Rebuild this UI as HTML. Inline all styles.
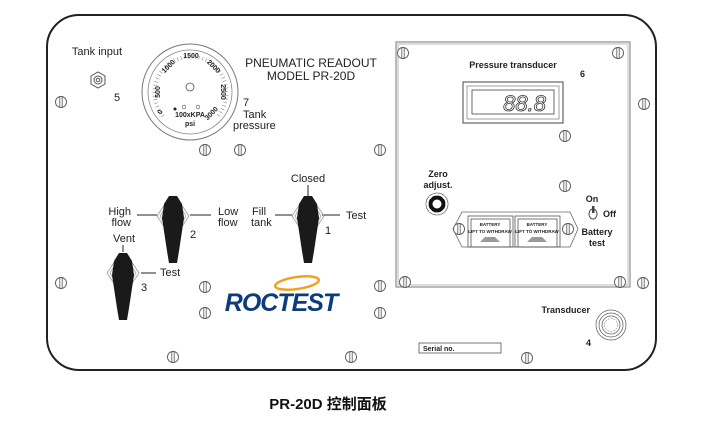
<!DOCTYPE html>
<html><head><meta charset="utf-8"><style>
html,body{margin:0;padding:0;background:#fff;}
svg{display:block;font-family:"Liberation Sans",Arial,sans-serif;}
</style></head><body>
<svg width="713" height="424" viewBox="0 0 713 424" xmlns="http://www.w3.org/2000/svg">
<defs>
<g id="s"><circle r="5.5" fill="#fff" stroke="#555" stroke-width="0.9"/><line x1="-1.2" y1="-5" x2="-1.2" y2="5" stroke="#555" stroke-width="0.8"/><line x1="1.2" y1="-5" x2="1.2" y2="5" stroke="#555" stroke-width="0.8"/></g>
<g id="lev">
<path d="M-16,0 L-8,-12 L8,-12 L16,0 L8,12 L-8,12 Z" fill="none" stroke="#999" stroke-width="0.8"/>
<path d="M-13,0 L-7,-10 L7,-10 L13,0 L7,10 L-7,10 Z" fill="none" stroke="#aaa" stroke-width="0.8"/>
<path d="M-4,-20 L4,-20 L9,-12 L11,2 L6,35 L4,47 L-4,47 L-6,35 L-11,2 L-9,-12 Z" fill="#1a1a1a"/>
</g>
</defs>
<rect x="47" y="15" width="609" height="355" rx="32" fill="#fff" stroke="#222" stroke-width="2"/>
<rect x="396" y="42" width="234" height="245" fill="none" stroke="#777" stroke-width="1"/>
<rect x="398" y="44" width="230" height="241" fill="none" stroke="#aaa" stroke-width="0.8"/>
<use href="#s" x="61" y="102"/><use href="#s" x="61" y="283"/>
<use href="#s" x="205" y="150"/><use href="#s" x="240" y="150"/><use href="#s" x="380" y="150"/>
<use href="#s" x="205" y="287"/><use href="#s" x="205" y="313"/>
<use href="#s" x="380" y="286"/><use href="#s" x="380" y="313"/>
<use href="#s" x="173" y="357"/><use href="#s" x="351" y="357"/><use href="#s" x="527" y="358"/>
<use href="#s" x="644" y="104"/><use href="#s" x="643" y="283"/>
<use href="#s" x="403" y="53"/><use href="#s" x="618" y="53"/><use href="#s" x="565" y="136"/><use href="#s" x="565" y="186"/><use href="#s" x="405" y="282"/><use href="#s" x="620" y="282"/>
<text x="97" y="55" font-size="11" text-anchor="middle" fill="#222">Tank input</text>
<polygon points="91,76 98,72 105,76 105,84 98,88 91,84" fill="#fff" stroke="#555"/>
<circle cx="98" cy="80" r="4" fill="none" stroke="#555"/><circle cx="98" cy="80" r="1.8" fill="none" stroke="#555"/>
<text x="114" y="101" font-size="11" fill="#222">5</text>
<circle cx="190" cy="92" r="48" fill="#fff" stroke="#777" stroke-width="1"/>
<circle cx="190" cy="92" r="42" fill="none" stroke="#888" stroke-width="0.8"/>
<circle cx="190" cy="87" r="4" fill="none" stroke="#555" stroke-width="0.8"/>
<path d="M163,116 A36,36 0 1 1 218,116" fill="none" stroke="#888" stroke-dasharray="0.6 3" stroke-width="4"/>
<g font-size="7" font-weight="bold" fill="#222" text-anchor="middle">
<text x="162" y="113" transform="rotate(-60 162 113)">0</text>
<text x="160" y="92" transform="rotate(-90 160 92)">500</text>
<text x="170" y="68" transform="rotate(-45 170 68)">1000</text>
<text x="191" y="58">1500</text>
<text x="212" y="68" transform="rotate(45 212 68)">2000</text>
<text x="221" y="92" transform="rotate(90 221 92)">2500</text>
<text x="213" y="115" transform="rotate(-45 213 115)">3000</text>
<text x="190" y="117">100xKPA</text>
<text x="190" y="126">psi</text>
</g>
<circle cx="175" cy="109" r="1.5" fill="#222"/><circle cx="184" cy="107" r="1.8" fill="none" stroke="#555" stroke-width="0.6"/><circle cx="198" cy="107" r="1.8" fill="none" stroke="#555" stroke-width="0.6"/>
<text x="243" y="106" font-size="11" fill="#222">7</text>
<text x="243" y="118" font-size="11" fill="#222">Tank</text>
<text x="233" y="129" font-size="11" fill="#222">pressure</text>
<text x="311" y="67" font-size="12" text-anchor="middle" fill="#222">PNEUMATIC READOUT</text>
<text x="311" y="80" font-size="12" text-anchor="middle" fill="#222">MODEL PR-20D</text>
<g stroke="#222" stroke-width="1">
<line x1="137" y1="215" x2="157" y2="215"/><line x1="190" y1="215" x2="211" y2="215"/>
<line x1="275" y1="215" x2="292" y2="215"/><line x1="322" y1="215" x2="340" y2="215"/>
<line x1="308" y1="185" x2="308" y2="196"/>
<line x1="123" y1="245" x2="123" y2="252"/><line x1="141" y1="273" x2="156" y2="273"/>
</g>
<use href="#lev" x="173" y="216"/>
<use href="#lev" x="308" y="216"/>
<use href="#lev" x="123" y="273"/>
<g font-size="11" fill="#222">
<text x="131" y="215" text-anchor="end">High</text><text x="131" y="226" text-anchor="end">flow</text>
<text x="218" y="215">Low</text><text x="218" y="226">flow</text>
<text x="190" y="238">2</text>
<text x="308" y="182" text-anchor="middle">Closed</text>
<text x="252" y="215">Fill</text><text x="251" y="226">tank</text>
<text x="346" y="219">Test</text>
<text x="325" y="234">1</text>
<text x="124" y="242" text-anchor="middle">Vent</text>
<text x="160" y="276">Test</text>
<text x="141" y="291">3</text>
</g>
<ellipse cx="297" cy="283" rx="22" ry="6" fill="none" stroke="#f0a020" stroke-width="2.5" transform="rotate(-8 297 283)"/>
<text x="281" y="311" font-size="25" font-weight="bold" font-style="italic" fill="#0d3c7a" text-anchor="middle" letter-spacing="-1">ROCTEST</text>
<text x="513" y="68" font-size="9" font-weight="bold" text-anchor="middle" fill="#222">Pressure transducer</text>
<text x="580" y="77" font-size="9" font-weight="bold" fill="#222">6</text>
<rect x="463" y="82" width="100" height="41" fill="#fff" stroke="#444" stroke-width="1"/>
<rect x="467" y="86" width="92" height="33" fill="none" stroke="#888" stroke-width="0.8"/>
<rect x="472" y="90" width="82" height="24" fill="#fff" stroke="#444" stroke-width="0.8"/>
<text x="546" y="111" font-size="22" font-style="italic" text-anchor="end" fill="#fff" stroke="#333" stroke-width="0.8">88.8</text>
<text x="438" y="177" font-size="9" font-weight="bold" text-anchor="middle" fill="#222">Zero</text>
<text x="438" y="188" font-size="9" font-weight="bold" text-anchor="middle" fill="#222">adjust.</text>
<circle cx="437" cy="204" r="11" fill="#fff" stroke="#666" stroke-width="0.8"/>
<circle cx="437" cy="204" r="8.5" fill="#111"/>
<g fill="#fff"><circle cx="437" cy="194.5" r="1.3"/><circle cx="446.5" cy="204" r="1.3"/><circle cx="437" cy="213.5" r="1.3"/><circle cx="427.5" cy="204" r="1.3"/><circle cx="443.7" cy="197.3" r="1.3"/><circle cx="430.3" cy="210.7" r="1.3"/><circle cx="443.7" cy="210.7" r="1.3"/><circle cx="430.3" cy="197.3" r="1.3"/></g>
<circle cx="437" cy="204" r="4.5" fill="#fff"/>
<path d="M453,229 L462,212 L570,212 L578,229 L570,247 L462,247 Z" fill="#fff" stroke="#666" stroke-width="0.8"/>
<use href="#s" x="459" y="229"/><use href="#s" x="568" y="229"/>
<g fill="none" stroke="#555" stroke-width="0.8">
<rect x="468" y="216" width="45" height="31"/><rect x="515" y="216" width="45" height="31"/>
<rect x="471" y="219" width="39" height="28"/><rect x="518" y="219" width="39" height="28"/>
</g>
<g font-size="4.5" font-weight="bold" fill="#222" text-anchor="middle">
<text x="490" y="226">BATTERY</text><text x="490" y="233">LIFT TO WITHDRAW</text>
<text x="537" y="226">BATTERY</text><text x="537" y="233">LIFT TO WITHDRAW</text>
</g>
<path d="M480,242 L485,237 L495,237 L500,242 Z M527,242 L532,237 L542,237 L547,242 Z" fill="#999"/>
<text x="592" y="202" font-size="9" font-weight="bold" text-anchor="middle" fill="#222">On</text>
<ellipse cx="593" cy="214" rx="4" ry="5" fill="#fff" stroke="#444"/><rect x="592" y="206" width="2.5" height="7" fill="#444"/>
<text x="603" y="217" font-size="9" font-weight="bold" fill="#222">Off</text>
<text x="597" y="235" font-size="9" font-weight="bold" text-anchor="middle" fill="#222">Battery</text>
<text x="597" y="246" font-size="9" font-weight="bold" text-anchor="middle" fill="#222">test</text>
<text x="590" y="313" font-size="9" font-weight="bold" text-anchor="end" fill="#222">Transducer</text>
<circle cx="611" cy="325" r="15" fill="#fff" stroke="#666" stroke-width="0.8"/>
<circle cx="611" cy="325" r="12" fill="none" stroke="#666" stroke-width="0.8"/>
<circle cx="611" cy="325" r="9" fill="none" stroke="#666" stroke-width="0.8"/>
<circle cx="611" cy="325" r="6.5" fill="none" stroke="#888" stroke-width="0.6" stroke-dasharray="2 1"/>
<text x="586" y="346" font-size="9" font-weight="bold" fill="#222">4</text>
<rect x="419" y="343" width="82" height="10" fill="#fff" stroke="#555" stroke-width="0.8"/>
<text x="423" y="351" font-size="7" font-weight="bold" fill="#222">Serial no.</text>
<text x="328" y="409" font-size="15" font-weight="bold" text-anchor="middle" fill="#111" font-family="Liberation Sans,'Noto Sans CJK SC',sans-serif">PR-20D 控制面板</text>
</svg>
</body></html>
